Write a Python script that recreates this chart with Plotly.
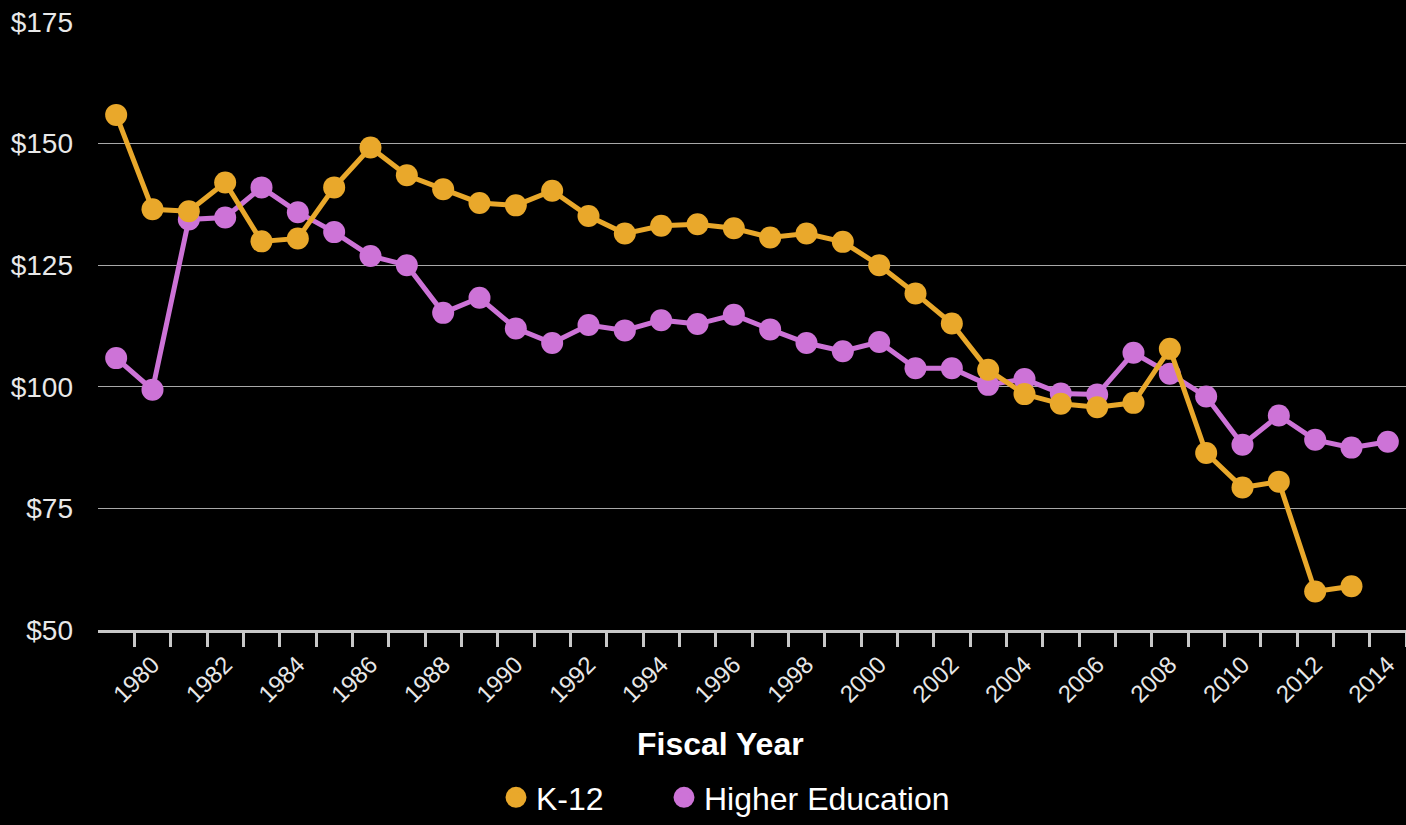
import plotly.graph_objects as go

# Данные
years = list(range(1979, 2015))
k12 = [155.9, 136.5, 136.1, 142.0, 129.9, 130.5, 141.0, 149.2, 143.5, 140.6,
       137.8, 137.3, 140.3, 135.1, 131.5, 133.1, 133.4, 132.6, 130.7, 131.5,
       129.8, 125.0, 119.2, 113.0, 103.5, 98.5, 96.5, 95.8, 96.7, 107.8,
       86.4, 79.3, 80.5, 57.9, 59.0, None]
higher_ed = [105.9, 99.4, 134.4, 134.8, 141.0, 135.9, 131.8, 126.9, 125.0, 115.2,
             118.3, 112.0, 109.0, 112.7, 111.6, 113.7, 112.9, 114.8, 111.8, 109.0,
             107.3, 109.2, 103.8, 103.8, 100.4, 101.6, 98.6, 98.4, 107.0, 102.7,
             98.0, 88.1, 94.1, 89.1, 87.5, 88.7]
y_ticks = [50, 75, 100, 125, 150, 175]
y_labels = ["$" + str(v) for v in y_ticks]
x_ticks = list(range(1980, 2015, 2))
boundaries = [y + 0.5 for y in range(1979, 2015)]

ORANGE = "#E9A82B"
PURPLE = "#CD73D7"
FONT = "Liberation Sans, Arial, sans-serif"

fig = go.Figure()

# Линии (фиолетовая снизу, оранжевая сверху)
for name, vals, color in [("Higher Education", higher_ed, PURPLE), ("K-12", k12, ORANGE)]:
    fig.add_trace(go.Scatter(
        x=years, y=vals, name=name, mode="lines+markers",
        line=dict(color=color, width=5),
        marker=dict(color=color, size=22),
        showlegend=False,
    ))

# Легенда только с кружками, две отдельные легенды для точного положения
for leg, (name, color) in zip(["legend", "legend2"], [("K-12", ORANGE), ("Higher Education", PURPLE)]):
    fig.add_trace(go.Scatter(
        x=[None], y=[None], name=name, mode="markers",
        marker=dict(color=color, size=16, line=dict(color=color, width=5)),
        legend=leg,
    ))

legend_style = dict(
    orientation="h", xref="container", yref="container",
    xanchor="left", yanchor="bottom", y=0,
    font=dict(size=32, color="white"), itemwidth=30,
    bgcolor="rgba(0,0,0,0)",
)

fig.update_layout(
    width=1406, height=825,
    paper_bgcolor="black", plot_bgcolor="black",
    margin=dict(l=98, r=0, t=22, b=195, autoexpand=False),
    font=dict(family=FONT, color="#e8e8e8"),
    showlegend=True,
    legend=dict(legend_style, x=496 / 1406),
    legend2=dict(legend_style, x=664 / 1406),
    annotations=[dict(
        text="<b>Fiscal Year</b>", x=0.476, y=-0.188, xref="paper", yref="paper",
        xanchor="center", yanchor="middle", showarrow=False,
        font=dict(size=32, color="white", family=FONT),
    )],
)

fig.update_xaxes(
    range=[1978.5, 2014.5],
    tickvals=x_ticks, ticktext=[str(v) for v in x_ticks],
    tickangle=-45, tickfont=dict(size=24, color="#e8e8e8"),
    ticks="", showgrid=False, zeroline=False,
    showline=True, linecolor="#c8c8c8", linewidth=3,
    minor=dict(ticks="outside", ticklen=14, tickwidth=3, tickcolor="#c8c8c8",
               tickmode="array", tickvals=boundaries, showgrid=False),
    ticklabelstandoff=8,
)
fig.update_yaxes(
    range=[50, 175],
    tickvals=y_ticks, ticktext=y_labels,
    tickfont=dict(size=28, color="#e8e8e8"),
    showgrid=True, gridcolor="#a8a8a8", gridwidth=1,
    zeroline=False, showline=False, ticks="",
    ticklabelstandoff=24,
)

fig.write_html(
    "out.html",
    config={"displayModeBar": False},
    post_script="document.body.style.margin='0';document.body.style.background='black';",
)
